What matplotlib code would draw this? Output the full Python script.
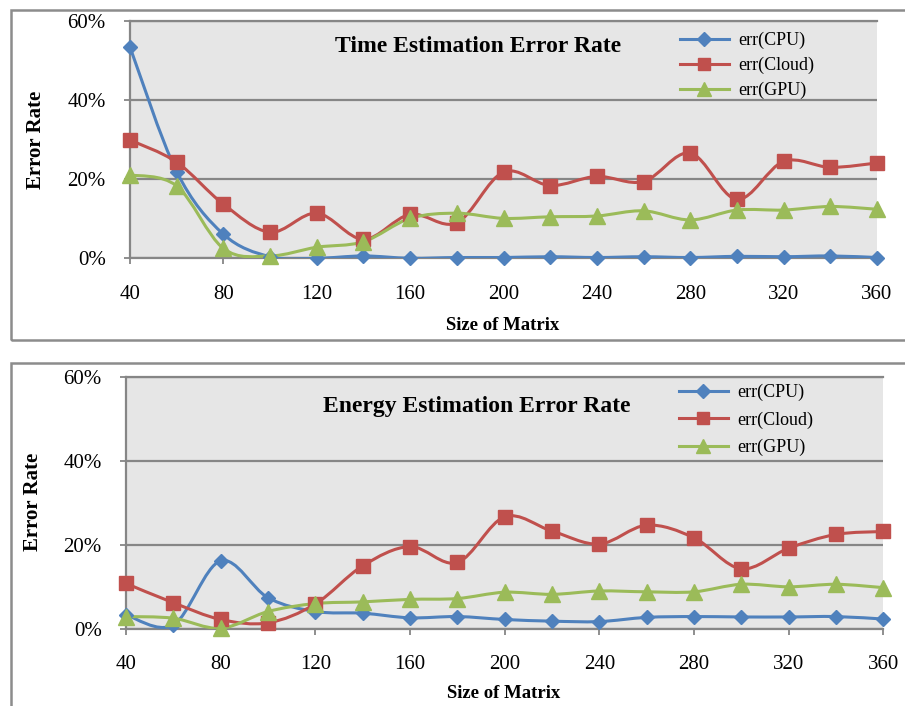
import numpy as np
import matplotlib.pyplot as plt
from matplotlib.path import Path
from matplotlib.patches import PathPatch, Rectangle
from matplotlib.lines import Line2D

plt.rcParams['font.family'] = ['Liberation Serif', 'DejaVu Serif']

W, H = 905, 706

sizes = [40, 60, 80, 100, 120, 140, 160, 180, 200, 220, 240, 260, 280, 300, 320, 340, 360]

# time estimation error (%)
time_cpu = [53.4, 21.9, 6.1, 0.4, 0.0, 0.6, 0.0, 0.2, 0.2, 0.4, 0.2, 0.4, 0.2, 0.5, 0.4, 0.6, 0.2]
time_cloud = [29.9, 24.3, 13.7, 6.6, 11.4, 4.8, 11.1, 9.0, 21.8, 18.4, 20.7, 19.4, 26.6, 14.9, 24.5, 23.0, 24.1]
time_gpu = [21.1, 18.3, 2.5, 0.6, 2.8, 4.2, 10.1, 11.4, 10.1, 10.5, 10.7, 12.0, 9.7, 12.2, 12.2, 13.1, 12.4]

# energy estimation error (%)
energy_cpu = [3.3, 0.9, 16.2, 7.4, 4.1, 3.7, 2.6, 2.9, 2.2, 1.8, 1.7, 2.7, 2.9, 2.8, 2.8, 2.9, 2.3]
energy_cloud = [10.8, 6.2, 2.2, 1.4, 5.9, 15.0, 19.6, 15.8, 26.7, 23.3, 20.2, 24.7, 21.7, 14.3, 19.2, 22.5, 23.2]
energy_gpu = [2.9, 2.5, 0.1, 4.1, 6.0, 6.4, 7.0, 7.2, 8.7, 8.2, 9.0, 8.8, 8.8, 10.6, 10.0, 10.6, 9.8]

labels = ['err(CPU)', 'err(Cloud)', 'err(GPU)']
colors = ['#4F81BD', '#C0504D', '#9BBB59']
markers = ['D', 's', '^']
msizes = [7.5, 10, 11]

GRID = '#868686'


def px_rect(l, t, r, b):
    return [l / W, 1 - b / H, (r - l) / W, (b - t) / H]


def smooth_line(ax, x, y, color):
    # excel style smoothed line: catmull-rom turned into bezier segments
    pts = np.column_stack([x, y]).astype(float)
    n = len(pts)
    verts = [pts[0]]
    codes = [Path.MOVETO]
    for i in range(n - 1):
        p0 = pts[max(i - 1, 0)]
        p1 = pts[i]
        p2 = pts[i + 1]
        p3 = pts[min(i + 2, n - 1)]
        verts += [p1 + (p2 - p0) / 6, p2 - (p3 - p1) / 6, p2]
        codes += [Path.CURVE4] * 3
    ax.add_patch(PathPatch(Path(verts, codes), fill=False, ec=color, lw=2.2,
                           transform=ax.transData, zorder=3, capstyle='round'))


def draw_chart(ax, series, title, title_xy, ylab_xy, xlab_xy, legend_xy, spacing):
    ax.set_facecolor('#E6E6E6')
    for vals, c, m, ms in zip(series, colors, markers, msizes):
        smooth_line(ax, sizes, vals, c)
        ax.plot(sizes, vals, linestyle='none', marker=m, ms=ms, color=c,
                mec=c, zorder=4, clip_on=False)
    ax.set_xlim(40, 360)
    ax.set_ylim(0, 60)
    ax.set_xticks(range(40, 361, 40))
    ax.set_yticks([0, 20, 40, 60])
    ax.set_yticklabels(['0%', '20%', '40%', '60%'])
    ax.yaxis.grid(True, color=GRID, lw=1.6)
    ax.set_axisbelow(True)
    ax.spines['right'].set_visible(False)
    for s in ['left', 'bottom', 'top']:
        ax.spines[s].set_color(GRID)
        ax.spines[s].set_linewidth(1.6)
    ax.tick_params(axis='y', direction='out', length=4.5, width=1.3, color=GRID,
                   labelsize=15, pad=13)
    ax.tick_params(axis='x', direction='out', length=4, width=1.3, color=GRID,
                   labelsize=15, pad=15)

    fig = ax.figure
    fig.text(title_xy[0] / W, 1 - title_xy[1] / H, title, ha='center', va='center',
             fontsize=17, fontweight='bold')
    fig.text(ylab_xy[0] / W, 1 - ylab_xy[1] / H, 'Error Rate', ha='center', va='center',
             rotation=90, fontsize=15, fontweight='bold')
    fig.text(xlab_xy[0] / W, 1 - xlab_xy[1] / H, 'Size of Matrix', ha='center', va='center',
             fontsize=13.5, fontweight='bold')

    handles = [Line2D([0], [0], color=c, lw=2.2, marker=m, ms=ms * 0.9, mec=c)
               for c, m, ms in zip(colors, markers, msizes)]
    ax.legend(handles, labels, loc='upper left', frameon=False, fontsize=13,
              bbox_to_anchor=(legend_xy[0] / W, 1 - legend_xy[1] / H),
              bbox_transform=fig.transFigure, handlelength=2.7, handletextpad=0.5,
              labelspacing=spacing, borderaxespad=0, borderpad=0)


fig = plt.figure(figsize=(W / 100, H / 100), dpi=100)

# frames round each chart
for t, b in [(9.5, 340), (363, 730)]:
    fig.add_artist(Rectangle((11 / W, 1 - b / H), (930 - 11) / W, (b - t) / H,
                             transform=fig.transFigure, fill=False, ec='#8C8C8C', lw=1.8))

ax1 = fig.add_axes(px_rect(130, 21, 877, 258.3))
draw_chart(ax1, [time_cpu, time_cloud, time_gpu], 'Time Estimation Error Rate',
           (478, 46), (36, 140), (503, 325), (680, 32), 0.42)

ax2 = fig.add_axes(px_rect(126, 377.3, 883.3, 628.7))
draw_chart(ax2, [energy_cpu, energy_cloud, energy_gpu], 'Energy Estimation Error Rate',
           (477, 406), (33, 502), (504, 693), (679, 384), 0.56)

fig.savefig('out.png', dpi=100)
